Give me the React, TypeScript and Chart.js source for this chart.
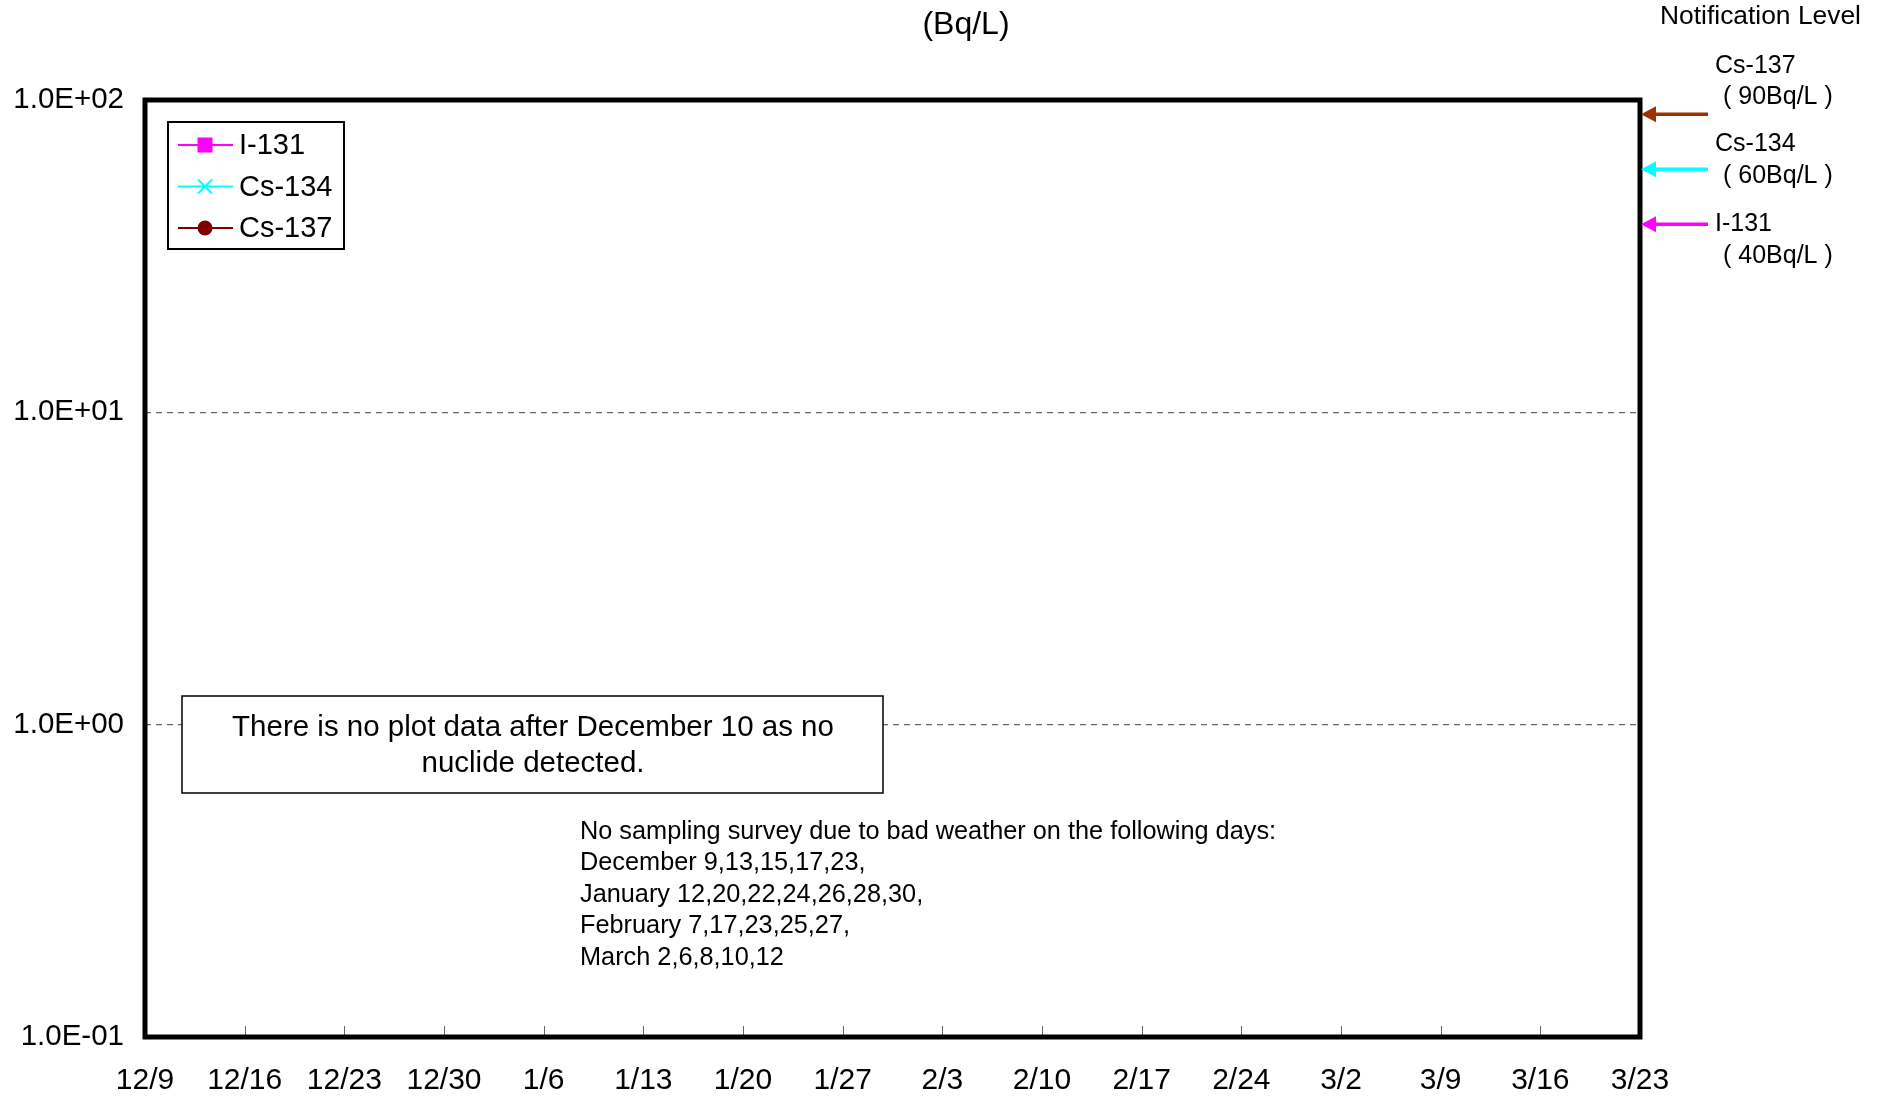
import React, { useEffect, useRef } from 'react';
import { Chart, registerables } from 'chart.js';

Chart.register(...registerables);

const FONT = "'Liberation Sans', Arial, Helvetica, sans-serif";

// X axis tick dates (weekly) and their labels
const tickDates = [
  '2011-12-09', '2011-12-16', '2011-12-23', '2011-12-30', '2012-01-06', '2012-01-13',
  '2012-01-20', '2012-01-27', '2012-02-03', '2012-02-10', '2012-02-17', '2012-02-24',
  '2012-03-02', '2012-03-09', '2012-03-16', '2012-03-23',
];
const tickLabels = [
  '12/9', '12/16', '12/23', '12/30', '1/6', '1/13', '1/20', '1/27',
  '2/3', '2/10', '2/17', '2/24', '3/2', '3/9', '3/16', '3/23',
];

// Y axis (log) ticks
const yTickValues = [0.1, 1, 10, 100];
const yTickLabels = ['1.0E-01', '1.0E+00', '1.0E+01', '1.0E+02'];

// Series (no nuclide detected in this period -> no plotted points)
const seriesNames = ['I-131', 'Cs-134', 'Cs-137'];
const sampleDates: string[] = [];
const i131Values: number[] = [];
const cs134Values: number[] = [];
const cs137Values: number[] = [];

// Notification levels
const levelNames = ['Cs-137', 'Cs-134', 'I-131'];
const levelValues = [90, 60, 40];
const levelTexts = ['( 90Bq/L )', '( 60Bq/L )', '( 40Bq/L )'];

const noteBoxLines = ['There is no plot data after December 10 as no', 'nuclide detected.'];
const noteLines = [
  'No sampling survey due to bad weather on the following days:',
  'December 9,13,15,17,23,',
  'January 12,20,22,24,26,28,30,',
  'February 7,17,23,25,27,',
  'March 2,6,8,10,12',
];

export default function App() {
  const ref = useRef<HTMLCanvasElement>(null);

  useEffect(() => {
    document.body.style.margin = '0';
    const canvas = ref.current!;
    const t0 = Date.parse(tickDates[0] + 'T00:00:00Z');
    const dayOf = (d: string) => Math.round((Date.parse(d + 'T00:00:00Z') - t0) / 86400000);
    const tickDays = tickDates.map(dayOf);
    const mk = (vals: number[]) => sampleDates.map((d, i) => ({ x: dayOf(d), y: vals[i] }));

    const seriesColors = ['#FF00FF', '#00FFFF', '#800000'];
    const seriesStyles = ['rect', 'crossRot', 'circle'];
    const levelColors = ['#993300', '#00FFFF', '#FF00FF'];

    const overlay = {
      id: 'overlay',
      afterDraw(chart: any) {
        const ctx = chart.ctx as CanvasRenderingContext2D;
        const { left, right, top, bottom } = chart.chartArea;
        const xs = chart.scales.x;
        const ys = chart.scales.y;
        ctx.save();

        // inner x tick marks
        ctx.strokeStyle = '#666';
        ctx.lineWidth = 1;
        tickDays.forEach((d, i) => {
          if (i === 0 || i === tickDays.length - 1) return;
          const px = Math.round(xs.getPixelForValue(d)) + 0.5;
          ctx.beginPath();
          ctx.moveTo(px, bottom - 2);
          ctx.lineTo(px, bottom - 11);
          ctx.stroke();
        });

        // plot border
        ctx.strokeStyle = '#000';
        ctx.lineWidth = 5;
        ctx.strokeRect(left, top, right - left, bottom - top);

        // legend
        ctx.fillStyle = '#fff';
        ctx.fillRect(168, 122, 176, 127);
        ctx.strokeStyle = '#000';
        ctx.lineWidth = 2;
        ctx.strokeRect(168, 122, 176, 127);
        chart.data.datasets.forEach((ds: any, i: number) => {
          const y = 145 + i * 41.5;
          ctx.strokeStyle = ds.borderColor;
          ctx.lineWidth = 2;
          ctx.beginPath();
          ctx.moveTo(178, y);
          ctx.lineTo(233, y);
          ctx.stroke();
          const cx = 205;
          ctx.fillStyle = ds.borderColor;
          if (ds.pointStyle === 'rect') {
            ctx.fillRect(cx - 7.5, y - 7.5, 15, 15);
          } else if (ds.pointStyle === 'crossRot') {
            ctx.lineWidth = 2;
            ctx.beginPath();
            ctx.moveTo(cx - 7, y - 7); ctx.lineTo(cx + 7, y + 7);
            ctx.moveTo(cx + 7, y - 7); ctx.lineTo(cx - 7, y + 7);
            ctx.stroke();
          } else {
            ctx.beginPath();
            ctx.arc(cx, y, 7.5, 0, Math.PI * 2);
            ctx.fill();
          }
          ctx.fillStyle = '#000';
          ctx.font = `29px ${FONT}`;
          ctx.textAlign = 'left';
          ctx.textBaseline = 'middle';
          ctx.fillText(ds.label, 239, y + 1);
        });

        // note box
        ctx.fillStyle = '#fff';
        ctx.fillRect(182, 696, 701, 97);
        ctx.strokeStyle = '#000';
        ctx.lineWidth = 1.5;
        ctx.strokeRect(182, 696, 701, 97);
        ctx.fillStyle = '#000';
        ctx.font = `29.5px ${FONT}`;
        ctx.textAlign = 'center';
        ctx.textBaseline = 'middle';
        noteBoxLines.forEach((t, i) => ctx.fillText(t, 533, 728 + i * 36));

        // notes
        ctx.font = `25.3px ${FONT}`;
        ctx.textAlign = 'left';
        noteLines.forEach((t, i) => ctx.fillText(t, 580, 832 + i * 31.5));

        // unit title
        ctx.font = `32px ${FONT}`;
        ctx.textAlign = 'center';
        ctx.fillText('(Bq/L)', 966, 25);

        // notification levels
        ctx.font = `26.4px ${FONT}`;
        ctx.textAlign = 'left';
        ctx.fillText('Notification Level', 1660, 17);
        const labelY = [[66, 97], [144, 176], [224, 256]];
        levelValues.forEach((v, i) => {
          const y = ys.getPixelForValue(v);
          ctx.strokeStyle = levelColors[i];
          ctx.fillStyle = levelColors[i];
          ctx.lineWidth = 3.5;
          ctx.beginPath();
          ctx.moveTo(1708, y);
          ctx.lineTo(right + 12, y);
          ctx.stroke();
          ctx.beginPath();
          ctx.moveTo(right + 1, y);
          ctx.lineTo(right + 16, y - 8);
          ctx.lineTo(right + 16, y + 8);
          ctx.closePath();
          ctx.fill();
          ctx.fillStyle = '#000';
          ctx.font = `25px ${FONT}`;
          ctx.fillText(levelNames[i], 1715, labelY[i][0]);
          ctx.fillText(levelTexts[i], 1723, labelY[i][1]);
        });

        ctx.restore();
      },
    };

    const chart = new Chart(canvas, {
      type: 'line',
      data: {
        datasets: [
          { label: seriesNames[0], data: mk(i131Values) },
          { label: seriesNames[1], data: mk(cs134Values) },
          { label: seriesNames[2], data: mk(cs137Values) },
        ].map((d, i) => ({
          ...d,
          borderColor: seriesColors[i],
          backgroundColor: seriesColors[i],
          pointStyle: seriesStyles[i] as any,
          pointRadius: 7,
          borderWidth: 2,
        })),
      },
      options: {
        responsive: false,
        animation: false,
        layout: { padding: { top: 100, right: 241, left: 0, bottom: 0 } },
        plugins: {
          legend: { display: false },
          tooltip: { enabled: false },
          title: { display: false },
        },
        scales: {
          x: {
            type: 'linear',
            min: tickDays[0],
            max: tickDays[tickDays.length - 1],
            afterBuildTicks: (s: any) => {
              s.ticks = tickDays.map((v) => ({ value: v }));
            },
            afterFit: (s: any) => {
              s.height = 62;
            },
            grid: { display: false, drawTicks: false },
            border: { display: false },
            ticks: {
              autoSkip: false,
              maxRotation: 0,
              padding: 26,
              color: '#000',
              font: { family: FONT, size: 30 },
              callback: (v: any) => {
                const i = tickDays.indexOf(Number(v));
                return i >= 0 ? tickLabels[i] : '';
              },
            },
          },
          y: {
            type: 'logarithmic',
            min: yTickValues[0],
            max: yTickValues[yTickValues.length - 1],
            afterBuildTicks: (s: any) => {
              s.ticks = yTickValues.map((v) => ({ value: v }));
            },
            afterFit: (s: any) => {
              s.width = 145;
            },
            grid: {
              drawTicks: false,
              lineWidth: 1.3,
              color: (c: any) =>
                c.tick && (c.tick.value === 1 || c.tick.value === 10) ? '#666666' : 'rgba(0,0,0,0)',
            },
            border: { display: false, dash: [6, 5] },
            ticks: {
              autoSkip: false,
              padding: 21,
              color: '#000',
              font: { family: FONT, size: 29.5 },
              callback: (v: any) => {
                const i = yTickValues.findIndex((t) => Math.abs(t - Number(v)) < 1e-9);
                return i >= 0 ? yTickLabels[i] : '';
              },
            },
          },
        },
      },
      plugins: [overlay],
    });
    return () => chart.destroy();
  }, []);

  return (
    <div style={{ width: 1881, height: 1099, background: '#fff' }}>
      <canvas ref={ref} width={1881} height={1099} style={{ display: 'block' }} />
    </div>
  );
}
